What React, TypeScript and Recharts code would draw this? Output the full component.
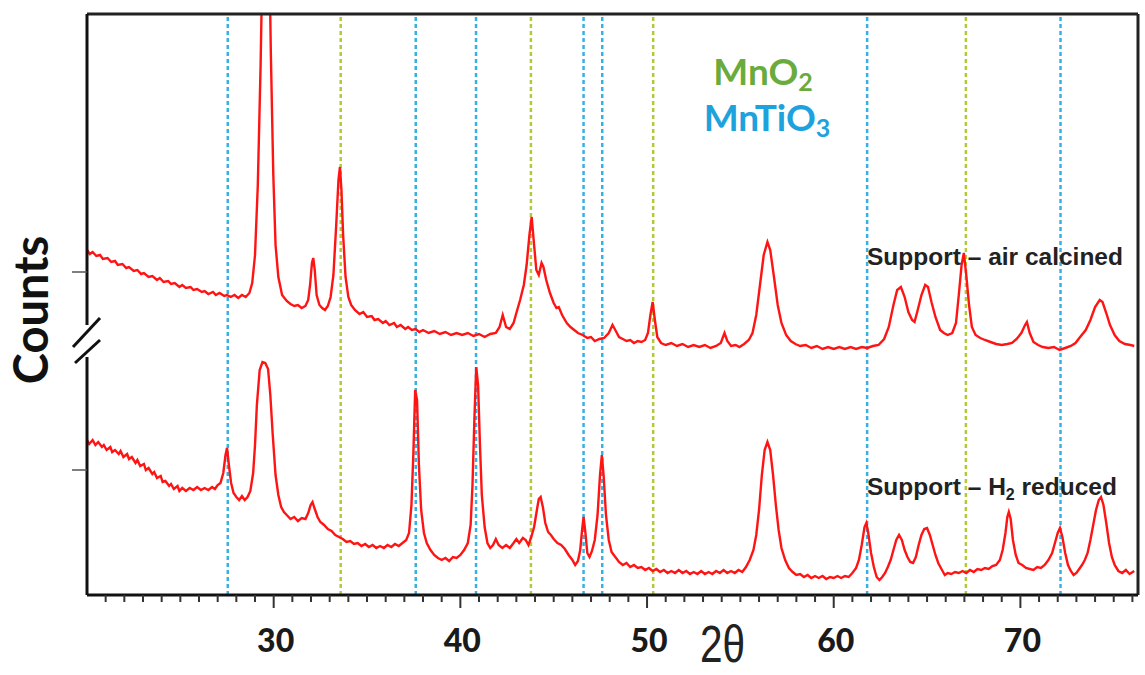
import React from "react";
import { LineChart, Line, XAxis, YAxis, ReferenceLine } from "recharts";

// 2θ (deg) vs counts (a.u.)
const AIR_CALCINED: [number, number][] = [
  [20.0, 345], [20.15, 341], [20.3, 343], [20.5, 339], [20.7, 340], [20.85, 336], [21.1, 337], [21.3, 333],
  [21.5, 334], [21.65, 330], [21.9, 331], [22.1, 327], [22.25, 328], [22.5, 324], [22.7, 325], [22.9, 321],
  [23.05, 322], [23.3, 318], [23.5, 319], [23.75, 315], [23.9, 317], [24.1, 313], [24.35, 314], [24.5, 311],
  [24.7, 312], [24.95, 308], [25.1, 310], [25.3, 307], [25.55, 308], [25.7, 305], [25.9, 306], [26.15, 303],
  [26.3, 304], [26.5, 301], [26.75, 303], [26.9, 300], [27.1, 302], [27.35, 299], [27.5, 300], [27.7, 298],
  [27.9, 300], [28.1, 297], [28.3, 300], [28.5, 298], [28.7, 302], [28.85, 312], [29.0, 340], [29.15, 410],
  [29.3, 530], [29.42, 660], [29.58, 760], [29.75, 660], [29.85, 540], [29.98, 420], [30.1, 350], [30.25, 318],
  [30.45, 300], [30.7, 294], [30.9, 291], [31.1, 289], [31.3, 290], [31.5, 287], [31.7, 289], [31.85, 295],
  [31.95, 310], [32.05, 332], [32.12, 337], [32.2, 325], [32.3, 300], [32.45, 290], [32.6, 287], [32.75, 285],
  [32.9, 289], [33.05, 298], [33.2, 320], [33.35, 370], [33.47, 415], [33.55, 428], [33.63, 405], [33.72, 360],
  [33.85, 318], [34.0, 298], [34.15, 290], [34.35, 285], [34.6, 281], [34.8, 283], [35.0, 278], [35.25, 279],
  [35.4, 275], [35.6, 276], [35.85, 272], [36.0, 274], [36.2, 270], [36.45, 272], [36.6, 268], [36.8, 270],
  [37.05, 266], [37.2, 268], [37.4, 265], [37.6, 266], [37.8, 263], [38.0, 265], [38.3, 262], [38.6, 264],
  [38.9, 261], [39.2, 263], [39.5, 260], [39.8, 262], [40.1, 260], [40.4, 262], [40.7, 259], [41.0, 261],
  [41.3, 258], [41.6, 261], [41.9, 262], [42.1, 268], [42.27, 280], [42.45, 268], [42.65, 266], [42.85, 272],
  [43.0, 282], [43.2, 295], [43.4, 310], [43.55, 330], [43.7, 360], [43.82, 378], [43.95, 350], [44.07, 325],
  [44.2, 320], [44.35, 332], [44.45, 328], [44.6, 315], [44.8, 302], [45.0, 292], [45.15, 287], [45.27, 288],
  [45.45, 280], [45.7, 272], [45.9, 268], [46.1, 265], [46.3, 262], [46.55, 260], [46.8, 257], [47.0, 258],
  [47.2, 254], [47.45, 256], [47.7, 257], [47.95, 262], [48.15, 270], [48.3, 265], [48.5, 258], [48.7, 256],
  [48.9, 254], [49.1, 255], [49.3, 252], [49.5, 254], [49.7, 253], [49.9, 255], [50.05, 262], [50.18, 280],
  [50.3, 293], [50.42, 275], [50.55, 258], [50.75, 252], [51.0, 250], [51.3, 252], [51.6, 249], [51.9, 251],
  [52.2, 248], [52.5, 250], [52.8, 248], [53.1, 250], [53.4, 247], [53.7, 249], [53.95, 252], [54.15, 262],
  [54.3, 254], [54.5, 249], [54.75, 250], [54.95, 248], [55.2, 251], [55.45, 255], [55.65, 262], [55.85, 280],
  [56.05, 310], [56.25, 340], [56.45, 353], [56.6, 345], [56.8, 318], [57.0, 290], [57.2, 272], [57.45, 260],
  [57.7, 254], [57.95, 251], [58.2, 249], [58.5, 250], [58.8, 247], [59.1, 249], [59.4, 246], [59.7, 248],
  [60.0, 246], [60.3, 248], [60.6, 246], [60.9, 248], [61.2, 246], [61.5, 248], [61.8, 247], [62.1, 249],
  [62.4, 250], [62.7, 256], [62.95, 268], [63.2, 290], [63.4, 305], [63.6, 308], [63.8, 298], [64.0, 283],
  [64.2, 275], [64.33, 273], [64.5, 285], [64.7, 300], [64.9, 310], [65.05, 308], [65.25, 292], [65.45, 278],
  [65.7, 265], [65.9, 262], [66.1, 260], [66.35, 262], [66.55, 272], [66.7, 300], [66.85, 330], [66.97, 342],
  [67.1, 320], [67.25, 290], [67.4, 268], [67.6, 260], [67.85, 257], [68.1, 255], [68.4, 253], [68.7, 251],
  [69.0, 250], [69.3, 251], [69.55, 252], [69.8, 256], [70.05, 262], [70.25, 270], [70.35, 273], [70.5, 262],
  [70.7, 253], [70.95, 250], [71.2, 248], [71.5, 247], [71.8, 248], [72.1, 245], [72.4, 247], [72.7, 249],
  [72.95, 252], [73.2, 258], [73.5, 265], [73.75, 275], [74.0, 288], [74.25, 295], [74.4, 293], [74.6, 282],
  [74.8, 270], [75.05, 260], [75.3, 254], [75.6, 251], [75.9, 250], [76.1, 249],
];

const H2_REDUCED: [number, number][] = [
  [20.0, 155], [20.12, 151], [20.3, 155], [20.45, 150], [20.6, 153], [20.8, 148], [20.9, 150], [21.05, 145],
  [21.25, 148], [21.35, 143], [21.5, 145], [21.7, 141], [21.8, 144], [21.95, 138], [22.15, 141], [22.25, 136],
  [22.4, 138], [22.6, 132], [22.7, 135], [22.85, 129], [23.05, 131], [23.15, 125], [23.3, 127], [23.5, 121],
  [23.6, 123], [23.75, 117], [23.95, 119], [24.05, 113], [24.2, 114], [24.4, 109], [24.5, 111], [24.65, 106],
  [24.85, 109], [24.95, 104], [25.1, 107], [25.3, 104], [25.5, 107], [25.7, 105], [25.9, 108], [26.1, 105],
  [26.3, 107], [26.5, 105], [26.7, 108], [26.85, 106], [27.0, 110], [27.15, 112], [27.3, 122], [27.42, 140],
  [27.5, 147], [27.6, 130], [27.72, 112], [27.85, 102], [28.0, 98], [28.15, 95], [28.3, 99], [28.45, 95],
  [28.6, 98], [28.75, 104], [28.9, 122], [29.0, 150], [29.1, 190], [29.25, 225], [29.4, 233], [29.55, 232],
  [29.7, 226], [29.82, 200], [29.95, 160], [30.1, 120], [30.25, 100], [30.4, 88], [30.55, 83], [30.7, 80],
  [30.9, 76], [31.1, 78], [31.3, 74], [31.5, 77], [31.7, 76], [31.85, 82], [31.98, 90], [32.08, 93],
  [32.2, 86], [32.35, 78], [32.5, 73], [32.7, 70], [32.9, 66], [33.1, 64], [33.3, 60], [33.5, 58],
  [33.7, 56], [33.9, 53], [34.1, 54], [34.3, 51], [34.5, 52], [34.7, 49], [34.9, 51], [35.1, 48],
  [35.3, 50], [35.5, 47], [35.7, 49], [35.9, 47], [36.1, 50], [36.3, 48], [36.5, 51], [36.7, 49],
  [36.9, 52], [37.1, 55], [37.25, 62], [37.38, 90], [37.48, 140], [37.58, 205], [37.68, 195], [37.78, 130],
  [37.9, 85], [38.05, 62], [38.2, 52], [38.4, 45], [38.6, 40], [38.8, 37], [39.0, 35], [39.2, 37],
  [39.4, 34], [39.6, 38], [39.8, 37], [40.0, 40], [40.2, 45], [40.4, 52], [40.55, 70], [40.65, 110],
  [40.75, 175], [40.85, 228], [40.95, 210], [41.05, 150], [41.15, 100], [41.3, 68], [41.45, 52], [41.6, 47],
  [41.75, 50], [41.9, 56], [42.05, 50], [42.25, 47], [42.45, 50], [42.65, 47], [42.85, 52], [43.0, 56],
  [43.15, 52], [43.35, 57], [43.5, 55], [43.65, 50], [43.8, 58], [43.95, 68], [44.1, 85], [44.2, 96],
  [44.3, 98], [44.42, 88], [44.55, 72], [44.7, 63], [44.85, 60], [45.0, 56], [45.2, 52], [45.4, 50],
  [45.6, 46], [45.8, 40], [46.0, 35], [46.15, 30], [46.3, 34], [46.42, 45], [46.52, 65], [46.6, 78],
  [46.7, 62], [46.8, 42], [46.92, 38], [47.05, 44], [47.2, 55], [47.35, 80], [47.48, 120], [47.58, 140],
  [47.68, 118], [47.8, 80], [47.95, 55], [48.1, 43], [48.3, 38], [48.5, 33], [48.7, 30], [48.9, 32],
  [49.1, 28], [49.3, 30], [49.5, 27], [49.7, 28], [49.9, 25], [50.1, 27], [50.3, 24], [50.5, 26],
  [50.7, 23], [50.9, 25], [51.1, 22], [51.3, 24], [51.5, 22], [51.7, 25], [51.9, 22], [52.1, 24],
  [52.3, 21], [52.5, 23], [52.7, 21], [52.9, 24], [53.1, 21], [53.3, 23], [53.5, 21], [53.7, 24],
  [53.9, 22], [54.1, 25], [54.3, 22], [54.5, 24], [54.7, 22], [54.9, 25], [55.1, 23], [55.3, 28],
  [55.5, 35], [55.7, 45], [55.85, 60], [56.0, 85], [56.15, 120], [56.3, 145], [56.45, 153], [56.6, 145],
  [56.75, 120], [56.9, 90], [57.05, 65], [57.2, 47], [57.4, 35], [57.6, 27], [57.8, 23], [58.0, 20],
  [58.2, 21], [58.4, 18], [58.6, 20], [58.8, 17], [59.0, 19], [59.2, 17], [59.4, 19], [59.6, 16],
  [59.8, 18], [60.0, 17], [60.2, 19], [60.4, 17], [60.6, 19], [60.8, 18], [61.0, 22], [61.2, 27],
  [61.35, 35], [61.5, 50], [61.65, 68], [61.75, 72], [61.85, 62], [62.0, 42], [62.15, 28], [62.3, 18],
  [62.45, 15], [62.6, 18], [62.75, 22], [62.9, 28], [63.05, 35], [63.2, 45], [63.35, 55], [63.5, 60],
  [63.65, 55], [63.8, 45], [63.95, 38], [64.1, 33], [64.25, 32], [64.4, 38], [64.55, 50], [64.7, 60],
  [64.85, 66], [65.0, 67], [65.15, 60], [65.3, 50], [65.45, 40], [65.6, 32], [65.8, 25], [65.95, 20],
  [66.1, 22], [66.3, 21], [66.5, 23], [66.7, 22], [66.9, 24], [67.1, 22], [67.3, 25], [67.5, 23],
  [67.7, 26], [67.9, 25], [68.1, 27], [68.3, 26], [68.5, 29], [68.7, 30], [68.9, 35], [69.05, 45],
  [69.2, 62], [69.3, 78], [69.38, 83], [69.48, 76], [69.6, 55], [69.75, 40], [69.9, 32], [70.1, 30],
  [70.3, 27], [70.5, 26], [70.7, 25], [70.9, 28], [71.1, 27], [71.3, 30], [71.5, 35], [71.7, 42],
  [71.85, 52], [72.0, 62], [72.12, 67], [72.25, 58], [72.4, 42], [72.55, 30], [72.7, 24], [72.85, 20],
  [73.0, 22], [73.15, 26], [73.3, 30], [73.45, 35], [73.6, 42], [73.75, 55], [73.9, 70], [74.05, 85],
  [74.2, 95], [74.32, 98], [74.45, 90], [74.6, 72], [74.75, 52], [74.9, 38], [75.05, 30], [75.25, 24],
  [75.45, 22], [75.65, 25], [75.85, 21], [76.1, 24],
];

// reference peak positions (2θ)
const MNTIO3_PEAKS = [27.54, 37.61, 40.84, 46.6, 47.6, 61.79, 72.15];
const MNO2_PEAKS = [33.59, 43.78, 50.33, 67.08];

const X_MIN = 20;
const X_MAX = 76.3;
const Y_MAX = 581;
const Y_TICKS = [125, 323];
const X_TICKS = Array.from({ length: 56 }, (_, i) => 21 + i);
const BREAK_LOW = 238;
const BREAK_HIGH = 270;

const airData = AIR_CALCINED.map(([theta, counts]) => ({ theta, counts }));
const h2Data = H2_REDUCED.map(([theta, counts]) => ({ theta, counts }));

const BLUE = "#36b1e4";
const GREEN = "#b3c93a";
const RED = "#ff1414";

const XTick = (props: any) => {
  const { x, y, payload } = props;
  const major = payload.value % 10 === 0;
  return (
    <g>
      <line x1={x} y1={y} x2={x} y2={y + (major ? 13 : 7)} stroke="#333" strokeWidth={2} />
      {major && (
        <text
          x={x + 2}
          y={y + 57}
          textAnchor="middle"
          fontFamily="Lato, sans-serif"
          fontWeight={900}
          fontSize={32}
          fill="#1a1a1a"
        >
          {payload.value}
        </text>
      )}
    </g>
  );
};

// y ticks carry no labels, only a short mark to the left of the axis
const YTick = (props: any) => {
  const { x, y } = props;
  return <line x1={x - 15} y1={y} x2={x} y2={y} stroke="#555" strokeWidth={1.5} />;
};

export default function App() {
  return (
    <div style={{ position: "absolute", left: 0, top: 0, width: 1145, height: 675, background: "#fff" }}>
      <LineChart width={1145} height={675} margin={{ top: 14, right: 7, bottom: 0, left: 0 }}>
        <XAxis
          dataKey="theta"
          type="number"
          domain={[X_MIN, X_MAX]}
          ticks={X_TICKS}
          interval={0}
          tickLine={false}
          tickSize={0}
          tickMargin={0}
          tick={<XTick />}
          height={80}
          axisLine={{ stroke: "#111", strokeWidth: 3 }}
          allowDataOverflow
        />
        <YAxis
          type="number"
          domain={[0, Y_MAX]}
          ticks={Y_TICKS}
          interval={0}
          width={87}
          axisLine={false}
          tickLine={false}
          tickSize={0}
          tickMargin={0}
          tick={<YTick />}
          allowDataOverflow
        />
        {MNTIO3_PEAKS.map((v) => (
          <ReferenceLine key={`b${v}`} x={v} stroke={BLUE} strokeWidth={2.5} strokeDasharray="4 3" />
        ))}
        {MNO2_PEAKS.map((v) => (
          <ReferenceLine key={`g${v}`} x={v} stroke={GREEN} strokeWidth={2.5} strokeDasharray="4 3" />
        ))}
        <Line
          data={airData}
          dataKey="counts"
          type="linear"
          dot={false}
          stroke={RED}
          strokeWidth={2.4}
          isAnimationActive={false}
        />
        <Line
          data={h2Data}
          dataKey="counts"
          type="linear"
          dot={false}
          stroke={RED}
          strokeWidth={2.4}
          isAnimationActive={false}
        />
        {/* frame and broken left axis */}
        <ReferenceLine y={Y_MAX} stroke="#222" strokeWidth={3} />
        <ReferenceLine x={X_MAX} stroke="#222" strokeWidth={3} />
        <ReferenceLine segment={[{ x: X_MIN, y: 0 }, { x: X_MIN, y: BREAK_LOW }]} stroke="#111" strokeWidth={3} />
        <ReferenceLine segment={[{ x: X_MIN, y: BREAK_HIGH }, { x: X_MIN, y: Y_MAX }]} stroke="#111" strokeWidth={3} />
      </LineChart>

      <svg
        width={1145}
        height={675}
        style={{ position: "absolute", left: 0, top: 0, pointerEvents: "none" }}
      >
        {/* axis break */}
        <line x1={73} y1={347} x2={100} y2={318} stroke="#111" strokeWidth={3} />
        <line x1={75} y1={363} x2={100} y2={340} stroke="#111" strokeWidth={3} />

        <text
          transform="translate(48,310) rotate(-90)"
          textAnchor="middle"
          fontFamily="Lato, sans-serif"
          fontWeight={700}
          fontSize={47}
          fill="#111"
        >
          Counts
        </text>
        <text
          transform="translate(700,662) scale(0.78,1)"
          fontFamily="'Liberation Sans', Arial, sans-serif"
          fontSize={52}
          fill="#222"
        >
          2θ
        </text>

        <text x={763} y={85} textAnchor="middle" fontFamily="Lato, sans-serif" fontWeight={700} fontSize={37} fill="#6aab3d">
          MnO<tspan dy={6} fontSize={25}>2</tspan>
        </text>
        <text x={767} y={131} textAnchor="middle" fontFamily="Lato, sans-serif" fontWeight={700} fontSize={37} fill="#1ea2de">
          MnTiO<tspan dy={6} fontSize={25}>3</tspan>
        </text>

        <text x={867} y={265} fontFamily="'Liberation Sans', Arial, sans-serif" fontWeight={700} fontSize={24.5} fill="#222">
          Support – air calcined
        </text>
        <text x={867} y={495} fontFamily="'Liberation Sans', Arial, sans-serif" fontWeight={700} fontSize={24.5} fill="#222">
          Support – H<tspan dy={5} fontSize={16}>2</tspan>
          <tspan dy={-5}> reduced</tspan>
        </text>
      </svg>
    </div>
  );
}
